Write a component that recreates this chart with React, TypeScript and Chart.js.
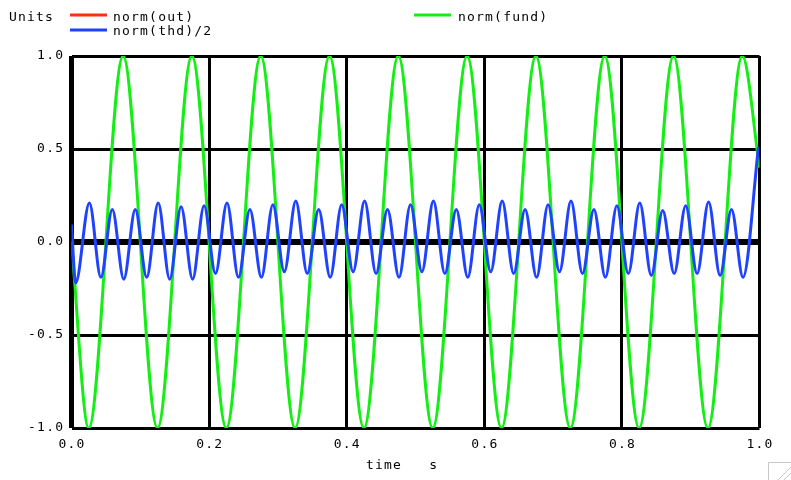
import React, { useEffect, useRef } from "react";
import { Chart, registerables } from "chart.js";

Chart.register(...registerables);

// ---- data ----
const xTicks = [0, 0.2, 0.4, 0.6, 0.8, 1.0];
const yTicks = [-1, -0.5, 0, 0.5, 1];

const seriesNames = ["norm(out)", "norm(thd)/2", "norm(fund)"];
const seriesColors = ["#ff3010", "#1e42ff", "#14ee14"];

const yUnitsLabel = "Units";
const xAxisLabel = "time   s";

// norm(out): not visible in the plot
const outTimes: number[] = [];
const outValues: number[] = [];

// norm(thd)/2: extrema
const thdTimes = [
  0, 0.006, 0.026, 0.0427, 0.0593, 0.076, 0.0927, 0.1093, 0.126, 0.1427,
  0.1593, 0.176, 0.1927, 0.2093, 0.226, 0.2427, 0.2593, 0.276, 0.2927, 0.3093,
  0.326, 0.3427, 0.3593, 0.376, 0.3927, 0.4093, 0.426, 0.4427, 0.4593, 0.476,
  0.4927, 0.5093, 0.526, 0.5427, 0.5593, 0.576, 0.5927, 0.6093, 0.626, 0.6427,
  0.6593, 0.676, 0.6927, 0.7093, 0.726, 0.7427, 0.7593, 0.776, 0.7927, 0.8093,
  0.826, 0.8427, 0.8593, 0.876, 0.8927, 0.9093, 0.926, 0.9427, 0.9593, 0.976,
  0.9985,
];
const thdValues = [
  0.094, -0.22, 0.21, -0.19, 0.175, -0.2, 0.175, -0.19, 0.21, -0.2,
  0.19, -0.2, 0.195, -0.17, 0.21, -0.19, 0.175, -0.19, 0.2, -0.16,
  0.22, -0.17, 0.175, -0.19, 0.2, -0.16, 0.22, -0.17, 0.175, -0.19,
  0.2, -0.16, 0.22, -0.17, 0.175, -0.19, 0.2, -0.16, 0.22, -0.17,
  0.175, -0.19, 0.2, -0.16, 0.22, -0.17, 0.175, -0.19, 0.195, -0.17,
  0.21, -0.18, 0.17, -0.17, 0.195, -0.17, 0.215, -0.18, 0.175, -0.19,
  0.51,
];

// norm(fund): extrema
const fundTimes = [
  0, 0.025, 0.075, 0.125, 0.175, 0.225, 0.275, 0.325, 0.375, 0.425, 0.475,
  0.525, 0.575, 0.625, 0.675, 0.725, 0.775, 0.825, 0.875, 0.925, 0.975, 1.0,
];
const fundValues = [
  0, -1, 1, -1, 1, -1, 1, -1, 1, -1, 1,
  -1, 1, -1, 1, -1, 1, -1, 1, -1, 1, 0.4,
];

const FONT = '13px "DejaVu Sans Mono"';
const SPACING = 1.2;

function toPoints(xs: number[], ys: number[]) {
  return xs.map((x, i) => ({ x, y: ys[i] }));
}

function fmt(v: number) {
  return v.toFixed(1);
}

const textPlugin = {
  id: "spiceTexts",
  afterDraw(chart: any) {
    const ctx: CanvasRenderingContext2D = chart.ctx;
    const xs = chart.scales.x;
    const ys = chart.scales.y;
    ctx.save();
    ctx.font = FONT;
    (ctx as any).letterSpacing = SPACING + "px";
    ctx.fillStyle = "#000";
    ctx.textBaseline = "middle";
    ctx.textAlign = "left";

    const w = (s: string) => ctx.measureText(s).width - SPACING;

    // y tick labels
    for (const v of yTicks) {
      const s = fmt(v);
      ctx.fillText(s, 63 - w(s), ys.getPixelForValue(v));
    }
    // x tick labels
    for (const v of xTicks) {
      const s = fmt(v);
      ctx.fillText(s, xs.getPixelForValue(v) - w(s) / 2, 445);
    }
    // axis title
    ctx.fillText(xAxisLabel, 366, 466);

    // units + legend
    ctx.fillText(yUnitsLabel, 9, 18);
    const legendPos = [
      { lx: 70, ly: 15, tx: 113, ty: 18 },
      { lx: 70, ly: 30, tx: 113, ty: 32 },
      { lx: 414, ly: 15, tx: 458, ty: 18 },
    ];
    seriesNames.forEach((name, i) => {
      const p = legendPos[i];
      ctx.strokeStyle = seriesColors[i];
      ctx.lineWidth = 3;
      ctx.beginPath();
      ctx.moveTo(p.lx, p.ly);
      ctx.lineTo(p.lx + 37, p.ly);
      ctx.stroke();
      ctx.fillText(name, p.tx, p.ty);
    });

    // window resize grip
    ctx.strokeStyle = "#c8c8c8";
    ctx.lineWidth = 1;
    ctx.beginPath();
    ctx.moveTo(768.5, 480);
    ctx.lineTo(768.5, 462.5);
    ctx.lineTo(791, 462.5);
    ctx.moveTo(778, 480);
    ctx.lineTo(791, 467);
    ctx.moveTo(784, 480);
    ctx.lineTo(791, 473);
    ctx.stroke();
    ctx.restore();
  },
};

export default function App() {
  const ref = useRef<HTMLCanvasElement>(null);

  useEffect(() => {
    document.body.style.margin = "0";
    const canvas = ref.current!;
    const chart = new Chart(canvas, {
      type: "line",
      data: {
        datasets: [
          {
            label: seriesNames[0],
            data: toPoints(outTimes, outValues),
            borderColor: seriesColors[0],
          },
          {
            label: seriesNames[1],
            data: toPoints(thdTimes, thdValues),
            borderColor: seriesColors[1],
          },
          {
            label: seriesNames[2],
            data: toPoints(fundTimes, fundValues),
            borderColor: seriesColors[2],
          },
        ],
      },
      options: {
        animation: false,
        responsive: false,
        devicePixelRatio: 1,
        layout: { padding: { left: 71.5, right: 31.5, top: 56, bottom: 52 } },
        plugins: {
          legend: { display: false },
          tooltip: { enabled: false },
          title: { display: false },
        },
        elements: {
          point: { radius: 0 },
          line: { borderWidth: 3, cubicInterpolationMode: "monotone", fill: false },
        },
        scales: {
          x: {
            type: "linear",
            min: 0,
            max: 1,
            z: 1,
            ticks: { display: false, stepSize: 0.2 },
            grid: {
              color: "#000",
              drawTicks: false,
              lineWidth: (c: any) => (c.tick && Math.abs(c.tick.value) < 1e-9 ? 5 : 3),
            },
            border: { display: false },
          },
          y: {
            type: "linear",
            min: -1,
            max: 1,
            z: 1,
            ticks: { display: false, stepSize: 0.5 },
            grid: {
              color: "#000",
              drawTicks: false,
              lineWidth: (c: any) => (c.tick && Math.abs(c.tick.value) < 1e-9 ? 6 : 3),
            },
            border: { display: false },
          },
        },
      },
      plugins: [textPlugin],
    });
    return () => chart.destroy();
  }, []);

  return (
    <div
      style={{
        position: "absolute",
        left: 0,
        top: 0,
        width: 791,
        height: 480,
        background: "#fff",
      }}
    >
      <canvas ref={ref} width={791} height={480} style={{ display: "block", width: 791, height: 480 }} />
    </div>
  );
}
